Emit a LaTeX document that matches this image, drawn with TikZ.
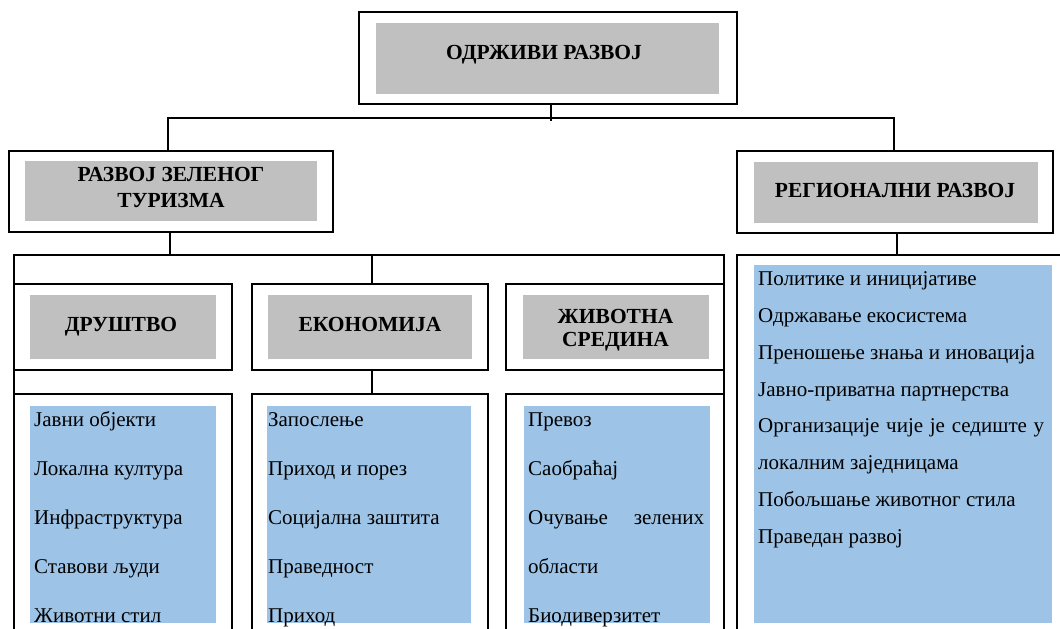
\documentclass[tikz,border=0pt]{standalone}
\usepackage{fontspec}
\setmainfont{Liberation Serif}
\definecolor{hdrgray}{HTML}{C0C0C0}
\definecolor{listblue}{HTML}{9DC3E6}
\tikzset{
  frame/.style={draw=black, line width=1.8pt, inner sep=0pt, outer sep=0pt},
  shadebox/.style={fill=hdrgray, draw=none, inner sep=0pt, outer sep=0pt},
  listbox/.style={fill=listblue, draw=none, inner sep=0pt, outer sep=0pt},
  hdr/.style={font=\fontsize{21.5}{25}\selectfont\bfseries, inner sep=0pt, anchor=base},
  item/.style={font=\fontsize{21}{25}\selectfont, inner sep=0pt, anchor=base west},
  link/.style={line width=1.4pt}
}
\begin{document}
\begin{tikzpicture}[x=1pt,y=-1pt]
\useasboundingbox (0,0) rectangle (1060,629);
\clip (0,0) rectangle (1060,629);
% outer frames
\node[frame, minimum width=378pt, minimum height=92pt] (top) at (548,58) {};
\node[frame, minimum width=324pt, minimum height=81pt] (gt) at (171,191.5) {};
\node[frame, minimum width=316pt, minimum height=82pt] (rr) at (895,192) {};
\node[frame, minimum width=218pt, minimum height=86pt] (soc) at (123,327) {};
\node[frame, minimum width=236pt, minimum height=86pt] (eco) at (370,327) {};
\node[frame, minimum width=218pt, minimum height=86pt] (env) at (615,327) {};
\node[frame, minimum width=218pt, minimum height=246pt] (soclist) at (123,517) {};
\node[frame, minimum width=236pt, minimum height=246pt] (ecolist) at (370,517) {};
\node[frame, minimum width=218pt, minimum height=246pt] (envlist) at (615,517) {};
\node[frame, minimum width=338pt, minimum height=385pt] (rlist) at (906,447.5) {};
% fills
\node[shadebox, minimum width=343pt, minimum height=71pt] (topg) at (547.5,58.5) {};
\node[shadebox, minimum width=292pt, minimum height=60pt] (gtg) at (171,191) {};
\node[shadebox, minimum width=284pt, minimum height=61pt] (rrg) at (896,192.5) {};
\node[shadebox, minimum width=186pt, minimum height=64pt] (socg) at (123,327) {};
\node[shadebox, minimum width=204pt, minimum height=64pt] (ecog) at (370,327) {};
\node[shadebox, minimum width=186pt, minimum height=64pt] (envg) at (616,327) {};
\node[listbox, minimum width=186pt, minimum height=217pt] (soclistb) at (123,514.5) {};
\node[listbox, minimum width=204pt, minimum height=217pt] (ecolistb) at (369,514.5) {};
\node[listbox, minimum width=186pt, minimum height=217pt] (envlistb) at (617,514.5) {};
\node[listbox, minimum width=298pt, minimum height=358pt] (rlistb) at (903,444) {};
% connectors
\coordinate (j1) at (551,118);
\coordinate (j1l) at (168,118);
\coordinate (j1r) at (894,118);
\coordinate (j2) at (170,255);
\coordinate (j3) at (372,255);
\draw[link] (top.south -| j1) -- ([yshift=-3pt]j1);
\draw[link] (gt.north -| j1l) -- (j1l) -- (j1r) -- (rr.north -| j1r);
\draw[link] (gt.south -| j2) -- (j2);
\draw[link] (soc.north west) -- (soc.north west |- j2) -- (env.north east |- j2) -- (env.north east);
\draw[link] (j3) -- (eco.north -| j3);
\draw[link] (soc.south west) -- (soclist.north west);
\draw[link] (eco.south -| j3) -- (ecolist.north -| j3);
\draw[link] (env.south east) -- (envlist.north east);
\draw[link] ([xshift=2pt]rr.south) -- ([xshift=2pt]rr.south |- rlist.north);
% header texts
\node[hdr] (topT) at (544,59) {ОДРЖИВИ РАЗВОЈ};
\node[hdr] (gtT1) at (171,181) {РАЗВОЈ ЗЕЛЕНОГ};
\node[hdr] (gtT2) at (171,207) {ТУРИЗМА};
\node[hdr] (rrT) at (895,197) {РЕГИОНАЛНИ РАЗВОЈ};
\node[hdr] (socT) at (121,331) {ДРУШТВО};
\node[hdr] (ecoT) at (370,331) {ЕКОНОМИЈА};
\node[hdr] (envT1) at (615.5,323) {ЖИВОТНА};
\node[hdr] (envT2) at (615.5,346) {СРЕДИНА};
% society list
\node[item] (s1) at (34,426) {Јавни објекти};
\node[item] (s2) at (34,475) {Локална култура};
\node[item] (s3) at (34,524) {Инфраструктура};
\node[item] (s4) at (34,573) {Ставови људи};
\node[item] (s5) at (34,622) {Животни стил};
% economy list
\node[item] (e1) at (268,426) {Запослење};
\node[item] (e2) at (268,475) {Приход и порез};
\node[item] (e3) at (268,524) {Социјална заштита};
\node[item] (e4) at (268,573) {Праведност};
\node[item] (e5) at (268,622) {Приход};
% environment list
\node[item] (v1) at (528,426) {Превоз};
\node[item] (v2) at (528,475) {Саобраћај};
\node[item, text width=176pt] (v3) at (528,524) {Очување\hfill зелених};
\node[item] (v4) at (528,573) {области};
\node[item] (v5) at (528,622) {Биодиверзитет};
% regional list
\node[item] (r1) at (758,285) {Политике и иницијативе};
\node[item] (r2) at (758,322) {Одржавање екосистема};
\node[item] (r3) at (758,359) {Преношење знања и иновација};
\node[item] (r4) at (758,396) {Јавно-приватна партнерства};
\node[item, text width=286pt] (r5) at (758,432) {Организације\hfill чије\hfill је\hfill седиште\hfill у};
\node[item] (r6) at (758,469) {локалним заједницама};
\node[item] (r7) at (758,506) {Побољшање животног стила};
\node[item] (r8) at (758,543) {Праведан развој};
\end{tikzpicture}
\end{document}
